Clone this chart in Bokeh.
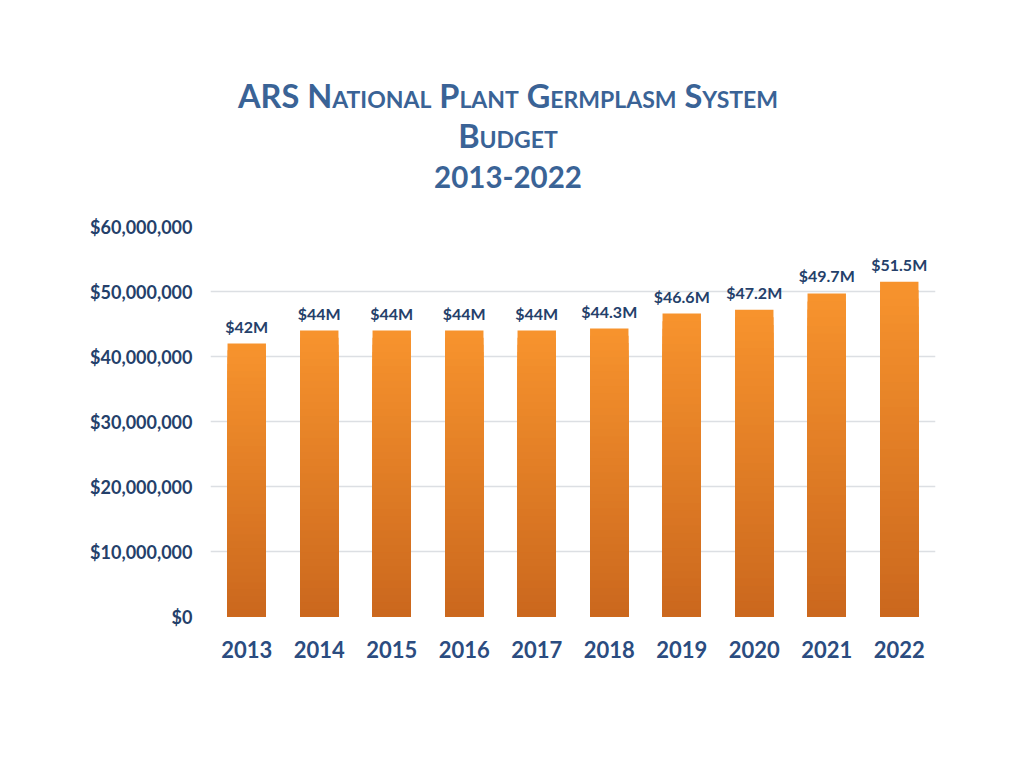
from bokeh.plotting import figure
from bokeh.models import (ColumnDataSource, FactorRange, Range1d, FixedTicker,
                          NumeralTickFormatter, Div, LabelSet)
from bokeh.core.properties import value
from bokeh.layouts import column
from bokeh.embed import file_html
from bokeh.resources import INLINE

# ---- data ----
years = ["2013", "2014", "2015", "2016", "2017", "2018", "2019", "2020", "2021", "2022"]
budget = [42.0e6, 44.0e6, 44.0e6, 44.0e6, 44.0e6, 44.3e6, 46.6e6, 47.2e6, 49.7e6, 51.5e6]
labels = ["$42M", "$44M", "$44M", "$44M", "$44M", "$44.3M", "$46.6M", "$47.2M", "$49.7M", "$51.5M"]
y_ticks = [0, 10e6, 20e6, 30e6, 40e6, 50e6, 60e6]

FONT = "Lato"
TITLE_C = "#3A6396"
TICK_C = "#24406A"

title_html = (
    f'<div style="width:1016px;text-align:center;font-family:{FONT};font-weight:bold;'
    f'color:{TITLE_C};padding-top:76px;">'
    '<div style="font-size:32.5px;line-height:40px;font-variant:small-caps;">ARS National Plant Germplasm System</div>'
    '<div style="font-size:32.5px;line-height:40px;font-variant:small-caps;">Budget</div>'
    '<div style="font-size:29.5px;line-height:42px;">2013-2022</div>'
    '</div>'
)
div = Div(text=title_html, width=1016, height=208, margin=(0, 0, 0, 0))

p = figure(x_range=FactorRange(*years), y_range=Range1d(0, 60e6),
           width=1008, height=510, output_backend="svg", toolbar_location=None,
           min_border_left=210, min_border_right=73, min_border_top=18,
           min_border_bottom=102, outline_line_color=None, margin=(0, 0, 0, 0))

# gradient bars: nested bars from tall (light) to short (dark)
N = 40
top_rgb = (248, 148, 46)
bot_rgb = (203, 104, 30)
for k in range(N):
    frac = (N - k) / N
    t = (N - k - 0.5) / N
    r = int(bot_rgb[0] + (top_rgb[0] - bot_rgb[0]) * t)
    g = int(bot_rgb[1] + (top_rgb[1] - bot_rgb[1]) * t)
    b = int(bot_rgb[2] + (top_rgb[2] - bot_rgb[2]) * t)
    col = "#%02x%02x%02x" % (r, g, b)
    p.vbar(x=years, top=[v * frac for v in budget], bottom=0, width=0.53,
           fill_color=col, line_color=None)

src = ColumnDataSource(dict(x=years, y=budget, lab=labels))
p.add_layout(LabelSet(x="x", y="y", text="lab", source=src, text_align="center",
                      text_baseline="bottom", y_offset=8, text_font=value(FONT),
                      text_font_style="bold", text_font_size="16px",
                      text_color=TICK_C))

p.yaxis.ticker = FixedTicker(ticks=y_ticks)
p.yaxis.formatter = NumeralTickFormatter(format="$0,0")
for ax in (p.xaxis, p.yaxis):
    ax.axis_line_color = None
    ax.major_tick_line_color = None
    ax.minor_tick_line_color = None
    ax.major_label_text_font = FONT
    ax.major_label_text_font_style = "bold"
    ax.major_label_text_color = TICK_C
p.yaxis.major_label_text_font_size = "18px"
p.yaxis.major_label_standoff = 12
p.xaxis.major_label_text_font_size = "22px"
p.xaxis.major_label_standoff = 18
p.xaxis.major_label_text_color = "#2B4C80"

p.xgrid.grid_line_color = None
p.ygrid.ticker = FixedTicker(ticks=y_ticks)
p.ygrid.grid_line_color = "#DCDFE3"
p.ygrid.grid_line_width = 1.5

layout = column(div, p, spacing=0)
open("out.html", "w").write(file_html(layout, INLINE))
